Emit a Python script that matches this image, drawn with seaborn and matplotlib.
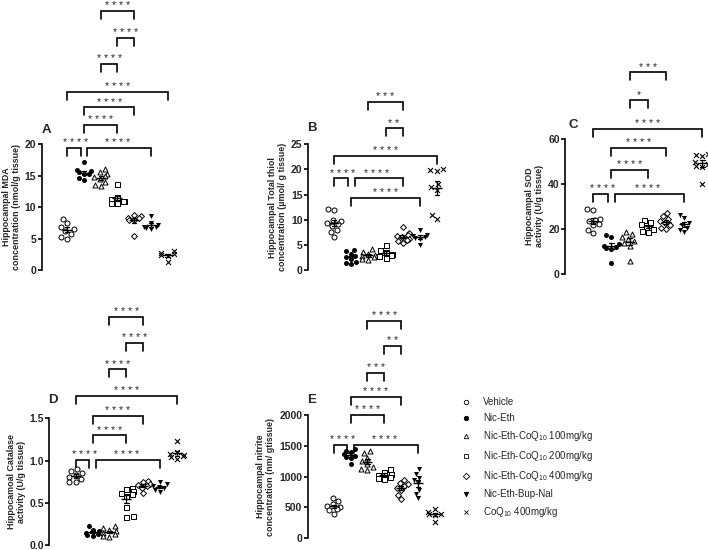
import numpy as np
import matplotlib.pyplot as plt
from matplotlib.lines import Line2D
import seaborn as sns

sns.set_style('ticks')
plt.rcParams['font.family'] = ['Liberation Sans', 'DejaVu Sans']
plt.rcParams['mathtext.fontset'] = 'custom'
plt.rcParams['mathtext.rm'] = 'Liberation Sans'
plt.rcParams['mathtext.it'] = 'Liberation Sans:italic'
plt.rcParams['mathtext.bf'] = 'Liberation Sans:bold'

# groups (order on the x axis)
groups = ['Vehicle', 'Nic-Eth', 'Nic-Eth-CoQ10 100mg/kg', 'Nic-Eth-CoQ10 200mg/kg',
          'Nic-Eth-CoQ10 400mg/kg', 'Nic-Eth-Bup-Nal', 'CoQ10 400mg/kg']
legend_labels = ['Vehicle', 'Nic-Eth', r'Nic-Eth-CoQ$_{10}$ 100mg/kg', r'Nic-Eth-CoQ$_{10}$ 200mg/kg',
                 r'Nic-Eth-CoQ$_{10}$ 400mg/kg', 'Nic-Eth-Bup-Nal', r'CoQ$_{10}$ 400mg/kg']
markers = ['o', 'o', '^', 's', 'D', 'v', 'x']
filled = [False, True, False, False, False, True, True]

# A - MDA (nmol/g tissue)
mda = [[8.1, 7.5, 6.8, 6.5, 6.2, 5.7, 5.2, 4.9],
       [17.2, 15.9, 15.7, 15.5, 15.3, 15.2, 14.6, 14.3],
       [16.1, 15.6, 15.3, 15.0, 14.8, 14.5, 14.0, 13.5, 13.3],
       [13.6, 11.6, 11.2, 11.0, 10.9, 10.7, 10.6],
       [8.8, 8.5, 8.3, 8.2, 8.0, 7.9, 5.4],
       [8.6, 7.4, 7.1, 6.9, 6.8, 6.6, 6.5],
       [3.0, 2.7, 2.5, 2.4, 2.3, 1.3]]
# B - total thiol (umol/g tissue)
thiol = [[12.1, 12.0, 10.0, 9.7, 9.4, 9.2, 8.8, 8.0, 7.5, 6.5],
         [3.9, 3.7, 3.2, 2.8, 2.5, 2.2, 1.6, 1.3, 1.2],
         [4.1, 3.6, 3.2, 3.0, 2.8, 2.5, 2.2, 2.0],
         [5.0, 4.0, 3.6, 3.2, 3.0, 2.7, 2.4],
         [8.5, 7.3, 7.0, 6.8, 6.5, 6.2, 6.0, 5.7, 5.3],
         [8.0, 7.0, 6.8, 6.6, 6.4, 6.2, 5.0],
         [20.0, 19.8, 19.6, 17.2, 16.5, 16.0, 11.0, 10.2]]
# C - SOD (U/g tissue)
sod = [[29.0, 28.5, 24.5, 24.0, 23.5, 22.0, 21.5, 19.5, 18.0],
       [17.0, 16.5, 13.0, 12.5, 12.0, 11.5, 11.0, 4.8],
       [18.5, 17.5, 16.5, 15.5, 14.5, 13.5, 12.5, 5.5],
       [24.0, 23.0, 22.0, 21.0, 20.0, 19.0, 18.5],
       [27.0, 25.5, 24.5, 23.5, 22.5, 21.5, 20.5, 20.0],
       [26.0, 25.0, 22.5, 21.5, 20.5, 19.5, 18.5],
       [53.5, 53.0, 52.5, 50.0, 49.0, 48.0, 47.5, 40.0]]
# D - catalase (U/g tissue)
catalase = [[0.90, 0.88, 0.85, 0.83, 0.80, 0.78, 0.75, 0.74],
            [0.22, 0.18, 0.16, 0.14, 0.13, 0.12, 0.11],
            [0.22, 0.20, 0.18, 0.16, 0.14, 0.13, 0.11, 0.10],
            [0.68, 0.66, 0.64, 0.62, 0.60, 0.58, 0.45, 0.34, 0.33],
            [0.76, 0.74, 0.72, 0.71, 0.70, 0.68, 0.62],
            [0.75, 0.72, 0.70, 0.69, 0.67, 0.65, 0.63],
            [1.23, 1.10, 1.08, 1.07, 1.05, 1.04, 1.02]]
# E - nitrite (nm/g tissue)
nitrite = [[650, 600, 550, 520, 500, 480, 460, 400],
           [1450, 1420, 1400, 1370, 1340, 1320, 1300, 1200],
           [1420, 1380, 1300, 1250, 1200, 1150, 1120, 1100],
           [1120, 1080, 1050, 1020, 1000, 980, 960],
           [950, 900, 880, 850, 820, 780, 700, 640],
           [1120, 1050, 980, 950, 900, 780, 720, 650],
           [480, 420, 400, 390, 380, 270]]

# significance brackets: (group i, group j, height, stars)
brackets_a = [(0, 1, 19.4, '****'), (1, 5, 19.4, '****'), (1, 3, 23.0, '****'), (1, 4, 25.8, '****'),
              (0, 6, 28.3, '****'), (2, 3, 32.7, '****'), (3, 4, 36.8, '****'), (2, 4, 41.1, '****')]
brackets_b = [(0, 1, 18.2, '****'), (1, 4, 18.2, '****'), (1, 5, 14.4, '****'), (0, 6, 22.7, '****'),
              (3, 4, 28.2, '**'), (2, 4, 33.5, '***')]
brackets_c = [(0, 1, 35.5, '****'), (1, 5, 35.5, '****'), (1, 3, 46.2, '****'), (1, 4, 56.3, '****'),
              (0, 6, 64.8, '****'), (2, 3, 77.7, '*'), (2, 4, 90.0, '***')]
brackets_d = [(0, 1, 1.007, '****'), (1, 5, 1.007, '****'), (1, 3, 1.30, '****'), (1, 4, 1.53, '****'),
              (0, 6, 1.765, '****'), (2, 3, 2.08, '****'), (3, 4, 2.39, '****'), (2, 4, 2.70, '****')]
brackets_e = [(0, 1, 1513, '****'), (1, 5, 1513, '****'), (1, 3, 2000, '****'), (1, 4, 2297, '****'),
              (2, 3, 2686, '***'), (3, 4, 3119, '**'), (2, 4, 3524, '****')]

W, H = 708, 550
fig = plt.figure(figsize=(W / 100, H / 100), dpi=100)


def add_axes(left, top, bottom, step):
    # pixel box -> figure fraction, x range -1.55..6.5 category units
    width = 8.05 * step
    return fig.add_axes([left / W, 1 - bottom / H, width / W, (bottom - top) / H])


def panel(ax, values, ymax, ticks, ticklabels, ylabel, brackets, letter, letter_xy, height_px):
    ax.patch.set_alpha(0)
    for k, g in enumerate(groups):
        vals = values[k]
        kw = dict(marker=markers[k], size=3.6, ax=ax, order=groups, warn_thresh=1)
        if markers[k] == 'x':
            kw.update(color='black', linewidth=0.8)
        elif filled[k]:
            kw.update(color='black', linewidth=0)
        else:
            kw.update(color='white', edgecolor='black', linewidth=0.7)
        if markers[k] == 'D':
            kw['size'] = 3.0
        sns.swarmplot(x=[g] * len(vals), y=vals, **kw)

    # mean +/- SEM
    xs = [g for g, v in zip(groups, values) for _ in v]
    ys = [y for v in values for y in v]
    sns.pointplot(x=xs, y=ys, order=groups, errorbar='se', color='black', marker='_',
                  markersize=7, markeredgewidth=1.0, linestyle='none', capsize=0.25,
                  err_kws={'linewidth': 0.9}, ax=ax, zorder=5)

    ax.set_xlim(-1.55, 6.5)
    ax.set_ylim(0, ymax)
    ax.set_yticks(ticks)
    ax.set_yticklabels(ticklabels, fontweight='bold', fontsize=7.5)
    ax.set_xticks([])
    ax.set_xlabel('')
    sns.despine(ax=ax, bottom=True)
    ax.spines['left'].set_linewidth(1.2)
    ax.spines['left'].set_color('black')
    ax.tick_params(axis='y', length=3, width=1.2, color='black', pad=0.8)
    ax.set_ylabel(ylabel, fontsize=6.4, fontweight='bold', labelpad=3, linespacing=1.1)

    # brackets
    drop = 8 / height_px * ymax
    for i, j, y, stars in brackets:
        x0, x1 = i, j
        for i2, j2, y2, _ in brackets:
            if y2 == y and i2 == j:
                x1 = j - 0.2
            if y2 == y and j2 == i:
                x0 = i + 0.2
        ax.plot([x0, x0, x1, x1], [y - drop, y, y, y - drop], color='black', lw=1.2,
                clip_on=False, solid_joinstyle='miter')
        ax.annotate(' '.join(stars), xy=((i + j) / 2, y), xytext=(0, 1.2), textcoords='offset points',
                    ha='center', va='baseline', fontsize=7.5, annotation_clip=False)

    fig.text(letter_xy[0] / W, 1 - letter_xy[1] / H, letter, fontsize=9.5, fontweight='bold',
             ha='center', va='center')


ax_a = add_axes(41.5, 144, 270, 16.7)
panel(ax_a, mda, 20, [0, 5, 10, 15, 20], ['0', '5', '10', '15', '20'],
      'Hippocampal MDA\nconcentration (nmol/g tissue)', brackets_a, 'A', (46, 130), 126)

ax_b = add_axes(307.7, 144.3, 270, 17.1)
panel(ax_b, thiol, 25, [0, 5, 10, 15, 20, 25], ['0', '5', '10', '15', '20', '25'],
      'Hippocampal Total thiol\nconcentration (µmol/ g tissue)', brackets_b, 'B', (312, 128), 126)

ax_c = add_axes(565, 139.3, 273.5, 18.2)
panel(ax_c, sod, 60, [0, 20, 40, 60], ['0', '20', '40', '60'],
      'Hippocampal SOD\nactivity (U/g tissue)', brackets_c, 'C', (573, 125), 134)

ax_d = add_axes(49.5, 418.3, 545, 16.9)
panel(ax_d, catalase, 1.5, [0, 0.5, 1.0, 1.5], ['0.0', '0.5', '1.0', '1.5'],
      'Hippocamoal Catalase\nactivity (U/g tissue)', brackets_d, 'D', (53, 400), 127)

ax_e = add_axes(307.5, 415, 538.3, 16.9)
panel(ax_e, nitrite, 2000, [0, 500, 1000, 1500, 2000], ['0', '500', '1000', '1500', '2000'],
      'Hippocampal nitrite\nconcentration (nm/ gtissue)', brackets_e, 'E', (312, 400), 123)

# legend
handles = []
for k in range(len(groups)):
    face = 'black' if filled[k] else 'white'
    handles.append(Line2D([], [], marker=markers[k], linestyle='none', markersize=3.2,
                          markerfacecolor=face, markeredgecolor='black', markeredgewidth=0.6,
                          color='black'))
fig.legend(handles, legend_labels, loc='upper left', bbox_to_anchor=(461 / W, 1 - 397 / H),
           frameon=False, fontsize=7, handlelength=1.0, handletextpad=1.3, labelspacing=0.62,
           borderpad=0, borderaxespad=0)

fig.savefig('out.png', dpi=100)
